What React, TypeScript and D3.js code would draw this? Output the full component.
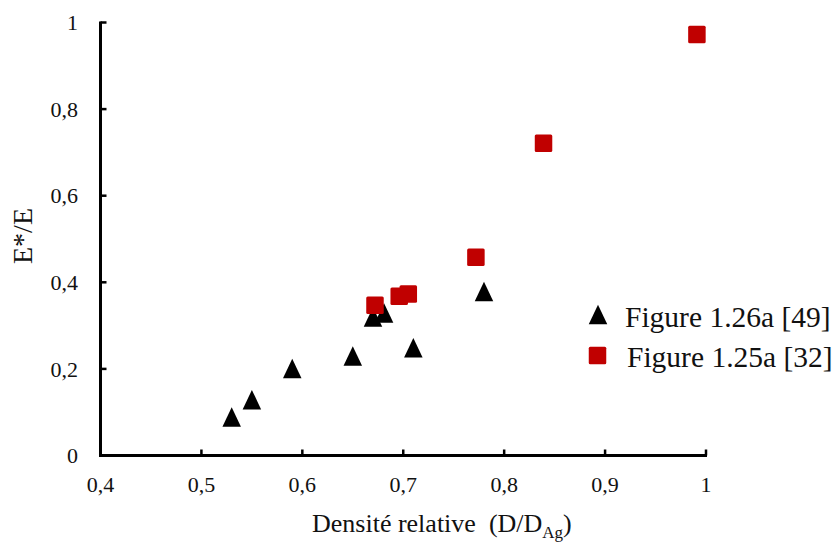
import React from "react";
import * as d3 from "d3";

const seriesTriX = [0.53, 0.55, 0.59, 0.65, 0.67, 0.681, 0.71, 0.78];
const seriesTriY = [0.089, 0.129, 0.201, 0.23, 0.32, 0.329, 0.249, 0.379];
const seriesSqX = [0.672, 0.696, 0.705, 0.772, 0.839, 0.991];
const seriesSqY = [0.347, 0.368, 0.373, 0.458, 0.721, 0.972];
const xTicks = [0.4, 0.5, 0.6, 0.7, 0.8, 0.9, 1];
const yTicks = [0, 0.2, 0.4, 0.6, 0.8, 1];
const legendLabels = ["Figure 1.26a [49]", "Figure 1.25a [32]"];

const W = 837;
const H = 545;
const FONT = "'Liberation Serif', 'Times New Roman', serif";
const RED = "#C00000";
const INK = "#111";

const fmt = (v: number) => (v === 0 || v === 1 ? String(v) : v.toFixed(1).replace(".", ","));

export default function App() {
  const x = d3.scaleLinear().domain([0.4, 1]).range([100.5, 706]);
  const y = d3.scaleLinear().domain([0, 1]).range([455.5, 22.5]);
  const triPath = (cx: number, cy: number) => {
    const w = 18.5, h = 19.5;
    return `M${cx},${cy - h / 2}L${cx + w / 2},${cy + h / 2}L${cx - w / 2},${cy + h / 2}Z`;
  };
  const sq = 17.5;
  const tris = seriesTriX.map((v, i) => ({ x: v, y: seriesTriY[i] }));
  const sqs = seriesSqX.map((v, i) => ({ x: v, y: seriesSqY[i] }));

  return (
    <svg width={W} height={H} style={{ position: "absolute", left: 0, top: 0, background: "#fff" }} fontFamily={FONT}>
      <rect width={W} height={H} fill="#fff" />
      {/* axes */}
      <line x1={x(0.4)} x2={x(0.4)} y1={y(1) - 1} y2={y(0) + 1.5} stroke="#000" strokeWidth={3} />
      <line x1={x(0.4) - 1.5} x2={x(1) + 1} y1={y(0)} y2={y(0)} stroke="#000" strokeWidth={3} />
      {yTicks.map((t) => (
        <g key={"yt" + t}>
          <line x1={x(0.4)} x2={x(0.4) + 6} y1={y(t)} y2={y(t)} stroke="#000" strokeWidth={2.5} />
          <text x={78} y={y(t)} dy="0.35em" textAnchor="end" fontSize={22} fill={INK}>
            {fmt(t)}
          </text>
        </g>
      ))}
      {xTicks.map((t) => (
        <g key={"xt" + t}>
          <line x1={x(t)} x2={x(t)} y1={y(0)} y2={y(0) - 6} stroke="#000" strokeWidth={2.5} />
          <text x={x(t)} y={492} textAnchor="middle" fontSize={22} fill={INK}>
            {fmt(t)}
          </text>
        </g>
      ))}
      {/* axis titles */}
      <text x={312} y={532} fontSize={26} fill={INK}>
        Densité relative{"\u00a0\u00a0"}(D/D
        <tspan fontSize={17} dy={6}>Ag</tspan>
        <tspan dy={-6}>)</tspan>
      </text>
      <text transform={`translate(32,236) rotate(-90)`} textAnchor="middle" fontSize={28} fill={INK}>
        E*/E
      </text>
      {/* data */}
      {tris.map((d, i) => (
        <path key={"t" + i} d={triPath(x(d.x), y(d.y))} fill="#000" />
      ))}
      {sqs.map((d, i) => (
        <rect key={"s" + i} x={x(d.x) - sq / 2} y={y(d.y) - sq / 2} width={sq} height={sq} rx={1.5} fill={RED} />
      ))}
      {/* legend */}
      <path d={triPath(598, 314.5)} fill="#000" />
      <text x={625} y={327} fontSize={29.5} fill={INK}>{legendLabels[0]}</text>
      <rect x={597.5 - sq / 2} y={355.5 - sq / 2} width={sq} height={sq} rx={1.5} fill={RED} />
      <text x={627} y={367} fontSize={29.5} fill={INK}>{legendLabels[1]}</text>
    </svg>
  );
}
